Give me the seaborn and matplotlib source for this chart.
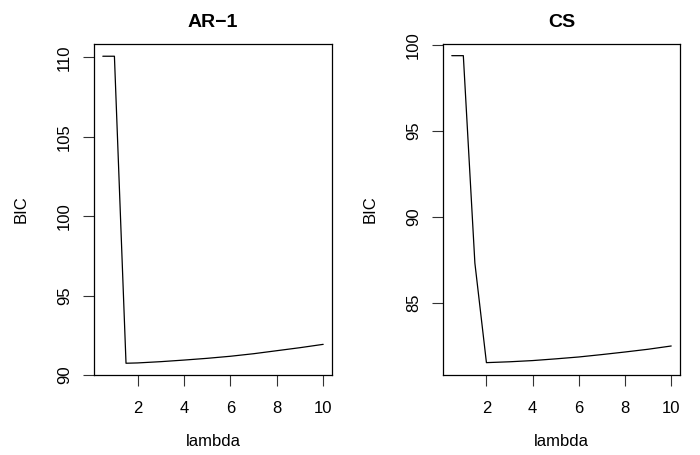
import numpy as np
import pandas as pd
import matplotlib
matplotlib.use("Agg")
import matplotlib.pyplot as plt
import seaborn as sns

# values
lam = [0.5, 1.0, 1.5, 2, 3, 4, 5, 6, 7, 8, 9, 10]
bic_ar1 = [110.07, 110.07, 90.74, 90.76, 90.84, 90.94, 91.05, 91.18, 91.34, 91.53, 91.72, 91.93]
bic_cs = [99.38, 99.38, 87.3, 81.5, 81.55, 81.62, 81.72, 81.83, 81.97, 82.12, 82.28, 82.47]
titles = ["AR\u22121", "CS"]
yticks_ar1 = [90, 95, 100, 105, 110]
yticks_cs = [85, 90, 95, 100]
xticks = [2, 4, 6, 8, 10]

sns.set_style("ticks")
plt.rcParams["font.family"] = ["Liberation Sans", "DejaVu Sans"]
plt.rcParams["text.color"] = "black"
plt.rcParams["axes.labelcolor"] = "black"
plt.rcParams["xtick.labelcolor"] = "black"
plt.rcParams["ytick.labelcolor"] = "black"

fig = plt.figure(figsize=(7, 4.55), dpi=100)
W, H = 700, 455
ax1 = fig.add_axes([94 / W, 1 - 375 / H, (332 - 94) / W, (375 - 44) / H])
ax2 = fig.add_axes([443 / W, 1 - 375 / H, (680 - 443) / W, (375 - 44) / H])

panels = [
    (ax1, bic_ar1, titles[0], yticks_ar1, (90.0, 110.84)),
    (ax2, bic_cs, titles[1], yticks_cs, (80.78, 100.06)),
]

for ax, vals, title, yt, ylim in panels:
    df = pd.DataFrame({"lambda": lam, "BIC": vals})
    sns.lineplot(data=df, x="lambda", y="BIC", ax=ax, color="black", linewidth=0.9)
    ax.set_xlim(0.12, 10.38)
    ax.set_ylim(*ylim)
    ax.set_xticks(xticks)
    ax.set_yticks(yt)
    ax.tick_params(axis="both", length=8, width=0.8, color="#333333",
                   labelsize=12, labelcolor="black")
    ax.tick_params(axis="x", pad=11)
    ax.tick_params(axis="y", pad=8)
    for lbl in ax.get_yticklabels():
        lbl.set_rotation(90)
        lbl.set_va("center")
    for sp in ax.spines.values():
        sp.set_visible(True)
        sp.set_color("black")
        sp.set_linewidth(0.9)
    ax.set_xlabel("lambda", fontsize=12, labelpad=13, color="black")
    ax.set_ylabel("BIC", fontsize=12, labelpad=20, color="black")
    ax.set_title(title, fontsize=14, fontweight="bold", pad=12, color="black")

fig.savefig("out.png", dpi=100)
